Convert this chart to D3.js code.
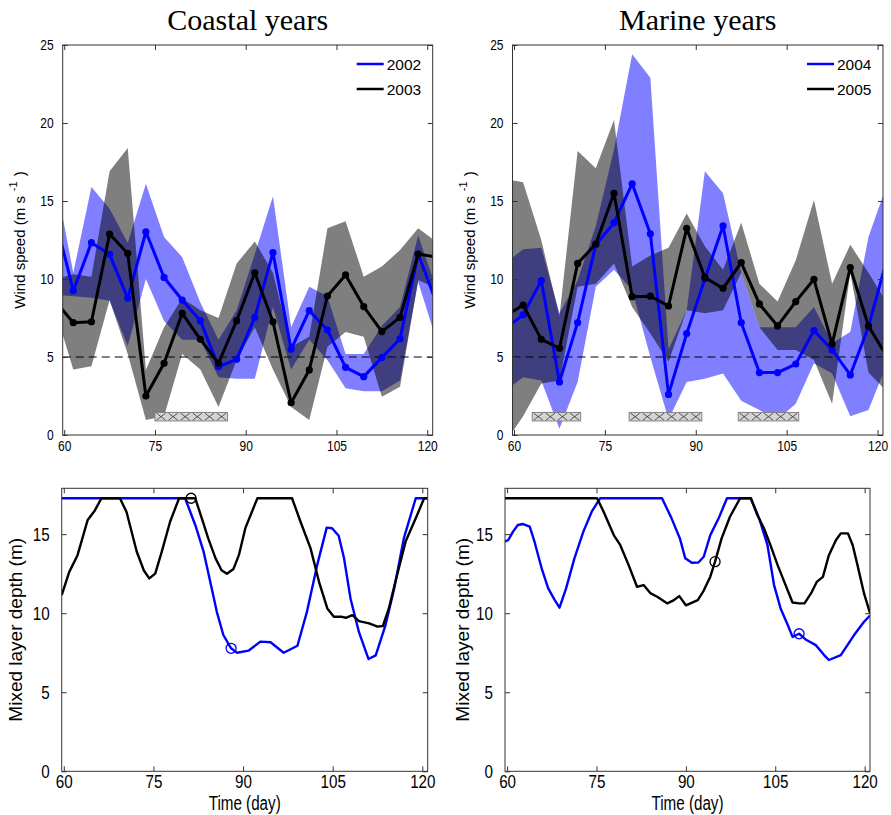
<!DOCTYPE html>
<html lang="en">
<head>
<meta charset="UTF-8">
<title>Wind speed and mixed layer depth</title>
<script src="https://d3js.org/d3.v7.min.js"></script>
<style>
  body { margin: 0; background: #fff; }
  svg { display: block; }
  .tick text { font-family: "Liberation Sans", Arial, sans-serif; fill: #000; }
  .tick line { stroke: #333; }
  .domain { display: none; }
</style>
</head>
<body>
<script>
// ---- wind speed, 3-day means (centre day of each bin) ----
const binDays = [58.5, 61.5, 64.5, 67.5, 70.5, 73.5, 76.5, 79.5, 82.5, 85.5, 88.5,
                 91.5, 94.5, 97.5, 100.5, 103.5, 106.5, 109.5, 112.5, 115.5, 118.5, 121.5];

// coastal years
const wind2002   = [13.9, 9.25, 12.33, 11.58, 8.76, 13.03, 10.1, 8.65, 7.33, 4.38, 4.85,
                    7.54, 11.69, 5.49, 7.97, 6.73, 4.34, 3.74, 4.96, 6.17, 11.6, 8.5];
const wind2002Hi = [16.5, 10.4, 15.9, 14.5, 12.3, 16.1, 12.7, 11.4, 8.5, 6.1, 8.0,
                    11.6, 15.3, 6.9, 9.5, 8.9, 5.2, 5.2, 7.0, 8.2, 12.8, 9.4];
const wind2002Lo = [9.0, 8.9, 8.8, 8.6, 5.7, 10.0, 7.3, 6.1, 6.1, 3.7, 3.6,
                    3.6, 8.2, 4.2, 6.1, 4.8, 3.0, 2.8, 2.8, 3.5, 9.8, 6.1];

const wind2003   = [8.6, 7.2, 7.26, 12.88, 11.64, 2.5, 4.6, 7.8, 6.13, 4.6, 7.33,
                    10.4, 7.26, 2.07, 4.17, 8.91, 10.26, 8.23, 6.63, 7.54, 11.6, 11.4];
const wind2003Hi = [10.0, 10.3, 10.15, 16.9, 18.4, 4.17, 6.9, 8.76, 8.0, 7.5, 11.0,
                    12.4, 10.4, 5.66, 6.3, 13.25, 13.7, 10.15, 10.8, 11.86, 13.25, 12.4];
const wind2003Lo = [8.0, 4.2, 4.4, 8.65, 5.2, 0.96, 1.2, 5.2, 4.2, 1.8, 4.8,
                    6.9, 4.2, 1.8, 0.96, 5.66, 6.6, 6.3, 2.45, 3.1, 9.94, 9.4];

// marine years
const wind2004   = [6.8, 7.7, 9.9, 3.4, 7.2, 12.2, 13.6, 16.1, 12.9, 2.6, 6.5,
                    10.0, 13.4, 7.2, 4.0, 4.0, 4.55, 6.7, 5.45, 3.85, 6.94, 11.2];
const wind2004Hi = [11.0, 11.9, 12.0, 7.8, 9.9, 13.4, 18.3, 24.4, 22.9, 5.5, 8.0,
                    16.9, 15.5, 10.4, 6.9, 6.9, 6.9, 8.2, 5.9, 6.6, 12.7, 16.0];
const wind2004Lo = [2.8, 3.7, 3.5, 0.4, 3.4, 9.5, 10.6, 9.3, 5.0, 1.0, 3.4,
                    3.6, 3.95, 2.2, 1.6, 1.0, 2.0, 4.6, 3.95, 1.2, 1.6, 4.5];

const wind2005   = [7.6, 8.33, 6.13, 5.56, 11.0, 12.24, 15.49, 8.87, 8.9, 8.27, 13.25,
                    10.1, 9.4, 11.05, 8.4, 6.99, 8.55, 9.98, 5.83, 10.73, 6.99, 5.06];
const wind2005Hi = [16.4, 16.2, 12.5, 7.6, 18.2, 17.1, 20.2, 10.8, 11.5, 12.0, 14.2,
                    12.1, 10.6, 13.6, 9.7, 8.55, 11.2, 15.06, 9.7, 12.2, 10.4, 8.5];
const wind2005Lo = [-0.5, 1.2, 3.3, 3.5, 9.5, 9.7, 11.0, 8.2, 6.5, 4.7, 8.0,
                    7.8, 8.0, 10.4, 6.9, 5.45, 5.45, 4.8, 2.0, 10.4, 4.0, 2.8];

// hatched periods [start, end] (day)
const periodsCoastal = [[75, 87]];
const periodsMarine  = [[63, 71], [79, 91], [97, 107]];

// ---- mixed layer depth ----
const mld2002Day = [59.65, 80.3, 82.0, 83.4, 84.5, 85.6, 86.7, 88.0, 89.0, 90.9, 92.9, 94.6, 96.8, 99.1,
                    100.7, 102.4, 104.0, 104.9, 106.0, 106.9, 108.0, 109.4, 111.0, 112.2, 113.8,
                    115.3, 116.9, 118.9, 120.9];
const mld2002    = [17.27, 17.27, 15.58, 13.89, 12.0, 10.1, 8.62, 7.78, 7.5, 7.63, 8.2, 8.16, 7.5, 7.94,
                    10.1, 13.04, 15.41, 15.37, 14.9, 13.47, 10.9, 8.8, 7.1, 7.33, 9.2,
                    11.57, 14.73, 17.27, 17.27];
const mld2003Day = [59.65, 60.9, 62.3, 64.0, 65.2, 66.3, 69.4, 70.5, 72.2, 73.4, 74.3, 75.3, 76.4, 77.8,
                    79.3, 82.0, 83.1, 84.2, 85.4, 86.4, 87.3, 88.4, 89.3, 90.4, 92.4, 98.2, 99.6,
                    101.3, 102.7, 104.1, 105.2, 106.4, 107.2, 108.3, 109.4, 111.1, 112.5, 113.4,
                    114.4, 115.5, 117.2, 118.9, 120.3, 120.9];
const mld2003    = [11.15, 12.6, 13.67, 15.9, 16.5, 17.27, 17.27, 16.4, 13.9, 12.7, 12.2, 12.5, 13.9, 15.8,
                    17.27, 17.27, 16.0, 14.7, 13.47, 12.72, 12.5, 12.8, 13.67, 15.4, 17.27, 17.27, 15.8,
                    14.1, 12.0, 10.3, 9.78, 9.78, 9.71, 9.88, 9.5, 9.36, 9.15, 9.19,
                    10.3, 12.0, 14.53, 16.0, 17.27, 17.27];
const mld2004Day = [59.6, 60.2, 61.0, 61.8, 62.7, 63.8, 64.6, 65.8, 66.9, 68.0, 68.8, 69.9, 71.3, 72.8,
                    74.2, 75.6, 86.0, 87.6, 89.0, 89.9, 91.0, 92.1, 93.0, 94.1, 95.5, 96.9, 100.9,
                    102.3, 103.7, 104.8, 105.9, 107.1, 107.9, 109.0, 110.1, 111.8, 113.2, 114.0,
                    116.0, 118.2, 119.9, 120.9];
const mld2004    = [14.52, 14.63, 15.16, 15.58, 15.64, 15.47, 14.52, 12.84, 11.57, 10.83, 10.35, 11.57, 13.47, 15.16,
                    16.42, 17.27, 17.27, 16.0, 14.73, 13.47, 13.19, 13.21, 13.57, 14.94, 16.0, 17.27, 17.27,
                    16.0, 14.3, 11.78, 10.3, 9.25, 8.5, 8.7, 8.34, 7.98, 7.35, 7.04,
                    7.35, 8.6, 9.46, 9.85];
const mld2005Day = [59.6, 75.1, 76.2, 77.9, 79.0, 80.4, 81.8, 82.9, 84.1, 85.2, 86.9, 88.0, 88.9, 90.0,
                    92.0, 92.9, 94.1, 94.9, 96.0, 97.4, 99.1, 100.9, 102.0, 103.1, 104.3, 105.4,
                    106.5, 107.9, 109.0, 109.9, 111.0, 112.0, 113.0, 114.0, 115.2, 116.0, 117.2,
                    118.0, 118.8, 119.9, 120.9];
const mld2005    = [17.27, 17.27, 16.42, 14.94, 14.3, 13.04, 11.67, 11.78, 11.25, 11.04, 10.62, 10.83, 11.08, 10.5,
                    10.83, 11.36, 12.31, 13.26, 14.73, 16.1, 17.27, 17.27, 16.21, 15.37, 14.2, 13.04,
                    12.0, 10.68, 10.62, 10.62, 11.25, 12.0, 12.3, 13.67, 14.63, 15.05, 15.05,
                    14.3, 13.04, 11.25, 10.0];
// marked points on the MLD curves [day, depth]
const mark2002 = [88.0, 7.78], mark2003 = [81.3, 17.27];
const mark2004 = [109.0, 8.7], mark2005 = [94.9, 13.26];

const xTicks = [60, 75, 90, 105, 120];
const windTicks = [0, 5, 10, 15, 20, 25];
const mldTicks = [0, 5, 10, 15];

const BLUE = "#0000ff", BLACK = "#000000";

const svg = d3.select("body").append("svg").attr("width", 891).attr("height", 815);
const defs = svg.append("defs");

const sans = '"Liberation Sans", Arial, sans-serif';

// squeeze text horizontally (the original uses a narrow sans face)
function narrow(sel, f) {
    sel.each(function () {
        const w = this.getComputedTextLength();
        d3.select(this).attr("textLength", w * f).attr("lengthAdjust", "spacingAndGlyphs");
    });
}

let clipId = 0;
function makeAxes(box, xDom, yDom, yTicks, fs, pad) {
    const x = d3.scaleLinear().domain(xDom).range([box.x0, box.x1]);
    const y = d3.scaleLinear().domain(yDom).range([box.y1, box.y0]);
    const g = svg.append("g");
    const id = "clip" + (clipId++);
    defs.append("clipPath").attr("id", id).append("rect")
        .attr("x", box.x0).attr("y", box.y0)
        .attr("width", box.x1 - box.x0).attr("height", box.y1 - box.y0);
    const plot = g.append("g").attr("clip-path", `url(#${id})`);

    // inward ticks on all four sides, labels bottom/left
    g.append("g").attr("transform", `translate(0,${box.y1})`)
        .call(d3.axisBottom(x).tickValues(xTicks).tickSize(-5).tickPadding(pad.x))
        .selectAll("text").style("font-size", fs + "px").call(narrow, 0.8);
    g.append("g").attr("transform", `translate(0,${box.y0})`)
        .call(d3.axisTop(x).tickValues(xTicks).tickSize(-5).tickFormat(""));
    g.append("g").attr("transform", `translate(${box.x0},0)`)
        .call(d3.axisLeft(y).tickValues(yTicks).tickSize(-5).tickPadding(pad.y))
        .selectAll("text").style("font-size", fs + "px").call(narrow, 0.8);
    g.append("g").attr("transform", `translate(${box.x1},0)`)
        .call(d3.axisRight(y).tickValues(yTicks).tickSize(-5).tickFormat(""));
    g.append("rect").attr("x", box.x0).attr("y", box.y0)
        .attr("width", box.x1 - box.x0).attr("height", box.y1 - box.y0)
        .attr("fill", "none").attr("stroke", "#333").attr("stroke-width", 1);
    return { x, y, g, plot };
}

function windPanel(box, title, series, periods, legendNames) {
    const { x, y, g, plot } = makeAxes(box, [59.75, 120.9], [0, 25], windTicks, 15, { x: 5, y: 9 });

    const area = (hi, lo) => d3.area()
        .x((d, i) => x(binDays[i])).y0((d, i) => y(lo[i])).y1((d, i) => y(hi[i]))(hi);
    series.forEach(s => {
        plot.append("path").attr("d", area(s.hi, s.lo))
            .attr("fill", s.color).attr("fill-opacity", 0.5);
    });

    plot.append("line").attr("x1", box.x0).attr("x2", box.x1)
        .attr("y1", y(5)).attr("y2", y(5))
        .attr("stroke", "#000").attr("stroke-width", 1).attr("stroke-dasharray", "8,5");

    // hatched boxes: grey bar with a row of X marks
    periods.forEach(p => {
        const bx0 = x(p[0]), bx1 = x(p[1]), by0 = y(1.45), by1 = y(0.9);
        plot.append("rect").attr("x", bx0).attr("y", by0)
            .attr("width", bx1 - bx0).attr("height", by1 - by0)
            .attr("fill", "#d4d4d4").attr("stroke", "#7a7a7a").attr("stroke-width", 0.9);
        const n = Math.round((bx1 - bx0) / 12), step = (bx1 - bx0) / n;
        let d = "";
        for (let k = 0; k < n; k++) {
            const a = bx0 + k * step + 1.5, b = bx0 + (k + 1) * step - 1.5;
            d += `M${a},${by0 + 0.8}L${b},${by1 - 0.8}M${b},${by0 + 0.8}L${a},${by1 - 0.8}`;
        }
        plot.append("path").attr("d", d).attr("stroke", "#333").attr("stroke-width", 0.8);
    });

    const line = d3.line().x((d, i) => x(binDays[i])).y(d => y(d));
    series.forEach(s => {
        plot.append("path").attr("d", line(s.mean))
            .attr("fill", "none").attr("stroke", s.color).attr("stroke-width", 3)
            .attr("stroke-linejoin", "round");
        plot.selectAll(null).data(s.mean.map((v, i) => [binDays[i], v])
                .filter(d => d[0] > 59.75 && d[0] < 120.9))
            .join("circle")
            .attr("cx", d => x(d[0])).attr("cy", d => y(d[1])).attr("r", 3.6)
            .attr("fill", s.color);
    });

    // legend
    series.forEach((s, i) => {
        const ly = box.y0 + 19 + i * 25;
        g.append("line").attr("x1", box.x1 - 76).attr("x2", box.x1 - 49)
            .attr("y1", ly).attr("y2", ly).attr("stroke", s.color).attr("stroke-width", 2.5);
        g.append("text").attr("x", box.x1 - 46).attr("y", ly + 5.5)
            .attr("font-family", sans).attr("font-size", 15.5).text(legendNames[i]);
    });

    svg.append("text").attr("x", (box.x0 + box.x1) / 2).attr("y", 30)
        .attr("text-anchor", "middle").attr("font-family", '"Liberation Serif", "Times New Roman", serif')
        .attr("font-size", 30).text(title);

    const lab = svg.append("text")
        .attr("transform", `translate(${box.x0 - 38},${(box.y0 + box.y1) / 2}) rotate(-90)`)
        .attr("text-anchor", "middle").attr("font-family", sans).attr("font-size", 15);
    lab.append("tspan").text("Wind speed (m s");
    lab.append("tspan").attr("dx", 5).attr("dy", -8).attr("font-size", 11).text("-1");
    lab.append("tspan").attr("dx", 5).attr("dy", 8).text(")");
}

function mldPanel(box, series, yLabelX) {
    const { x, y, g, plot } = makeAxes(box, [59.65, 120.9], [0, 17.9], mldTicks, 19, { x: 3, y: 12 });
    const line = d3.line().x(d => x(d[0])).y(d => y(d[1]));
    series.forEach(s => {
        plot.append("path").attr("d", line(s.day.map((d, i) => [d, s.val[i]])))
            .attr("fill", "none").attr("stroke", s.color).attr("stroke-width", 2.4)
            .attr("stroke-linejoin", "round");
    });
    series.forEach(s => {
        plot.append("circle").attr("cx", x(s.mark[0])).attr("cy", y(s.mark[1])).attr("r", 5)
            .attr("fill", "none").attr("stroke", s.color).attr("stroke-width", 1.3);
    });
    svg.append("text")
        .attr("transform", `translate(${yLabelX},${(box.y0 + box.y1) / 2}) rotate(-90)`)
        .attr("text-anchor", "middle").attr("font-family", sans).attr("font-size", 19)
        .text("Mixed layer depth (m)");
    svg.append("text").attr("x", (box.x0 + box.x1) / 2).attr("y", 810)
        .attr("text-anchor", "middle").attr("font-family", sans).attr("font-size", 20)
        .text("Time (day)").call(narrow, 0.76);
}

windPanel({ x0: 62.7, x1: 432.7, y0: 45, y1: 435 }, "Coastal years", [
    { mean: wind2002, hi: wind2002Hi, lo: wind2002Lo, color: BLUE },
    { mean: wind2003, hi: wind2003Hi, lo: wind2003Lo, color: BLACK }
], periodsCoastal, ["2002", "2003"]);

windPanel({ x0: 512.5, x1: 883, y0: 45, y1: 435 }, "Marine years", [
    { mean: wind2004, hi: wind2004Hi, lo: wind2004Lo, color: BLUE },
    { mean: wind2005, hi: wind2005Hi, lo: wind2005Lo, color: BLACK }
], periodsMarine, ["2004", "2005"]);

mldPanel({ x0: 61.7, x1: 427.7, y0: 488.3, y1: 771.3 }, [
    { day: mld2002Day, val: mld2002, mark: mark2002, color: BLUE },
    { day: mld2003Day, val: mld2003, mark: mark2003, color: BLACK }
], 22);

mldPanel({ x0: 505, x1: 870, y0: 488.3, y1: 771.3 }, [
    { day: mld2004Day, val: mld2004, mark: mark2004, color: BLUE },
    { day: mld2005Day, val: mld2005, mark: mark2005, color: BLACK }
], 469);
</script>
</body>
</html>
